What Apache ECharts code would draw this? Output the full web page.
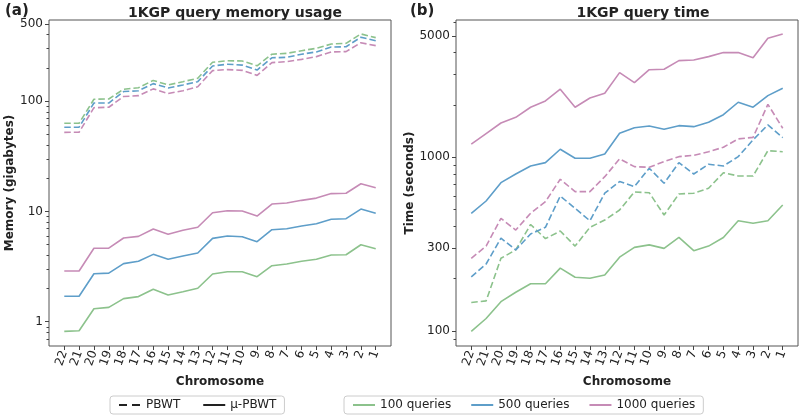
<!DOCTYPE html>
<html><head><meta charset="utf-8">
<script src="https://cdn.jsdelivr.net/npm/echarts@6/dist/echarts.min.js"></script>
<style>html,body{margin:0;padding:0;background:#fff}#c{width:799px;height:416px}</style>
</head><body><div id="c"></div>
<script>
const chromosomes = ['22','21','20','19','18','17','16','15','14','13','12','11','10','9','8','7','6','5','4','3','2','1'];

const memPBWT100  = [62.9, 63, 104, 104.5, 128, 132, 154, 140, 150, 161, 225, 232, 231, 209, 266, 271, 286, 301, 329, 334, 406, 376];
const memPBWT500  = [57.9, 58, 96.1, 96, 122, 124, 144, 131.5, 140, 150, 208, 216, 212, 191, 247, 249, 266, 279, 309, 311, 379, 353];
const memPBWT1000 = [52.1, 52.2, 87.1, 87.9, 110, 112, 129, 117, 124, 135, 189, 193, 190, 171, 223, 228, 239, 253, 279, 281, 338, 318];
const memMu100  = [0.818, 0.829, 1.31, 1.35, 1.62, 1.69, 1.97, 1.75, 1.87, 2.01, 2.71, 2.84, 2.84, 2.56, 3.22, 3.34, 3.53, 3.68, 4.02, 4.05, 4.99, 4.59];
const memMu500  = [1.70, 1.70, 2.72, 2.76, 3.36, 3.53, 4.08, 3.68, 3.94, 4.20, 5.70, 5.98, 5.90, 5.31, 6.82, 6.97, 7.38, 7.73, 8.48, 8.59, 10.5, 9.61];
const memMu1000 = [2.88, 2.88, 4.63, 4.65, 5.74, 5.94, 6.92, 6.20, 6.74, 7.18, 9.73, 10.14, 10.1, 9.08, 11.67, 11.9, 12.6, 13.2, 14.5, 14.6, 17.8, 16.4];

const timePBWT100  = [146, 149, 262, 293, 410, 340, 376, 308, 395, 435, 497, 631, 625, 465, 615, 621, 663, 815, 780, 780, 1091, 1076];
const timePBWT500  = [205, 243, 342, 293, 362, 395, 598, 508, 431, 621, 725, 678, 865, 708, 931, 801, 911, 891, 1008, 1259, 1535, 1297];
const timePBWT1000 = [262, 308, 445, 381, 476, 555, 747, 634, 634, 773, 978, 883, 875, 944, 1008, 1026, 1076, 1142, 1275, 1302, 2017, 1469];
const timeMu100  = [99.6, 118, 147.5, 167, 187, 187, 230, 204, 201, 210, 266, 303, 313, 299, 346, 290, 308, 345, 431, 417, 431, 531];
const timeMu500  = [476, 560, 714, 801, 891, 931, 1112, 987, 987, 1045, 1374, 1480, 1512, 1448, 1520, 1500, 1589, 1758, 2073, 1941, 2264, 2496];
const timeMu1000 = [1189, 1368, 1574, 1698, 1940, 2110, 2463, 1940, 2193, 2335, 3070, 2686, 3192, 3212, 3600, 3630, 3795, 4003, 4003, 3735, 4846, 5128];

const memMajorTicks = [1, 10, 100, 500];
const memMinorTicks = [0.6,0.7,0.8,0.9,2,3,4,5,6,7,8,9,20,30,40,50,60,70,80,90,200,300,400];
const timeMajorTicks = [100, 300, 1000, 5000];
const timeMinorTicks = [90,200,400,500,600,700,800,900,2000,3000,4000,6000];

const queryNames = ['100 queries','500 queries','1000 queries'];
const colors = ['#8cc28c', '#5e9ec9', '#c68bb6'];
const FONT = 'DejaVu Sans';
const dash = [6.5, 3];

const lg = Math.log10;
const toPts = arr => arr.map((v, i) => [i, lg(v)]);

function xAxisFor(gi) {
  return {
    type: 'value', gridIndex: gi, position: 'bottom', min: -1.03, max: 22.03,
    axisLine: {show: false, onZero: false},
    splitLine: {show: false},
    axisTick: {show: true, inside: false, length: 4, lineStyle: {color: '#444'}, customValues: chromosomes.map((c, i) => i)},
    axisLabel: {customValues: chromosomes.map((c, i) => i), formatter: v => chromosomes[Math.round(v)],
      rotate: 70, fontFamily: FONT, fontSize: 12, color: '#222', margin: 5},
    name: 'Chromosome', nameLocation: 'middle', nameGap: 30,
    nameTextStyle: {fontFamily: FONT, fontSize: 12, fontWeight: 'bold', color: '#222'}
  };
}
function yMajor(gi, min, max, ticks, name, gap) {
  return {
    type: 'value', gridIndex: gi, position: 'left', min: min, max: max,
    axisLine: {show: false, onZero: false}, splitLine: {show: false},
    axisTick: {show: true, inside: false, length: 4, lineStyle: {color: '#444'}, customValues: ticks.map(lg)},
    axisLabel: {customValues: ticks.map(lg), formatter: v => String(Math.round(Math.pow(10, v))),
      fontFamily: FONT, fontSize: 12, color: '#222', margin: 6},
    name: name, nameLocation: 'middle', nameGap: gap,
    nameTextStyle: {fontFamily: FONT, fontSize: 12, fontWeight: 'bold', color: '#222'}
  };
}
function yMinor(gi, min, max, ticks) {
  return {
    type: 'value', gridIndex: gi, position: 'left', offset: 0, min: min, max: max,
    axisLine: {show: false, onZero: false}, splitLine: {show: false},
    axisTick: {show: true, inside: false, length: 2.5, lineStyle: {color: '#444', width: 1}, customValues: ticks.map(lg)},
    axisLabel: {show: false}
  };
}

const series = [];
function addLine(name, data, xi, yi, color, dashed) {
  series.push({
    name: name, type: 'line', xAxisIndex: xi, yAxisIndex: yi, data: toPts(data),
    symbol: 'none', silent: true, animation: false,
    lineStyle: {color: color, width: 1.6, type: dashed ? dash : 'solid'},
    itemStyle: {color: color}
  });
}
[memPBWT100, memPBWT500, memPBWT1000].forEach((d, k) => addLine('mem PBWT ' + queryNames[k], d, 0, 0, colors[k], true));
[memMu100, memMu500, memMu1000].forEach((d, k) => addLine('mem mu ' + queryNames[k], d, 0, 0, colors[k], false));
[timePBWT100, timePBWT500, timePBWT1000].forEach((d, k) => addLine('time PBWT ' + queryNames[k], d, 1, 2, colors[k], true));
[timeMu100, timeMu500, timeMu1000].forEach((d, k) => addLine('time mu ' + queryNames[k], d, 1, 2, colors[k], false));

// legend-only entries
function addLegendEntry(name, color, dashed) {
  series.push({name: name, type: 'line', xAxisIndex: 0, yAxisIndex: 0, data: [], symbol: 'none',
    lineStyle: {color: color, width: 1.8, type: dashed ? [8, 5] : 'solid'}, itemStyle: {color: color}});
}
addLegendEntry('PBWT', '#222', true);
addLegendEntry('μ-PBWT', '#222', false);
queryNames.forEach((n, k) => addLegendEntry(n, colors[k], false));

const legendBase = {
  orient: 'horizontal', top: 396, itemWidth: 22, itemHeight: 10,
  padding: [3, 8], borderColor: '#cccccc', borderWidth: 1, borderRadius: 3,
  selectedMode: false, textStyle: {fontFamily: FONT, fontSize: 12, color: '#222'},
  itemStyle: {color: 'transparent', borderWidth: 0, opacity: 0}
};

const option = {
  animation: false,
  backgroundColor: '#fff',
  title: [
    {text: '1KGP query memory usage', left: 230, top: 1, textAlign: 'center',
     textStyle: {fontFamily: FONT, fontSize: 14, fontWeight: 'bold', color: '#222'}},
    {text: '1KGP query time', left: 638, top: 1, textAlign: 'center',
     textStyle: {fontFamily: FONT, fontSize: 14, fontWeight: 'bold', color: '#222'}},
    {text: '{p|(}{b|a}{p|)}', left: 0, top: -1,
     textStyle: {rich: {p: {fontFamily: FONT, fontSize: 15, color: '#222'}, b: {fontFamily: FONT, fontSize: 15, fontWeight: 'bold', color: '#222'}}}},
    {text: '{p|(}{b|b}{p|)}', left: 405, top: -1,
     textStyle: {rich: {p: {fontFamily: FONT, fontSize: 15, color: '#222'}, b: {fontFamily: FONT, fontSize: 15, fontWeight: 'bold', color: '#222'}}}}
  ],
  grid: [
    {left: 49, top: 20, width: 342, height: 326, show: true, borderColor: '#555', borderWidth: 1, backgroundColor: 'transparent'},
    {left: 456, top: 20, width: 342, height: 326, show: true, borderColor: '#555', borderWidth: 1, backgroundColor: 'transparent'}
  ],
  xAxis: [xAxisFor(0), xAxisFor(1)],
  yAxis: [
    yMajor(0, -0.220, 2.735, memMajorTicks, 'Memory (gigabytes)', 30),
    yMinor(0, -0.220, 2.735, memMinorTicks),
    yMajor(1, 1.9136, 3.790, timeMajorTicks, 'Time (seconds)', 40),
    yMinor(1, 1.9136, 3.790, timeMinorTicks)
  ],
  legend: [
    Object.assign({}, legendBase, {left: 110, itemGap: 22, data: ['PBWT', 'μ-PBWT']}),
    Object.assign({}, legendBase, {left: 344, itemGap: 19, data: queryNames})
  ],
  series: series
};
const chart = echarts.init(document.getElementById('c'), null, {renderer: 'canvas'});
chart.setOption(option);
</script>
</body></html>
